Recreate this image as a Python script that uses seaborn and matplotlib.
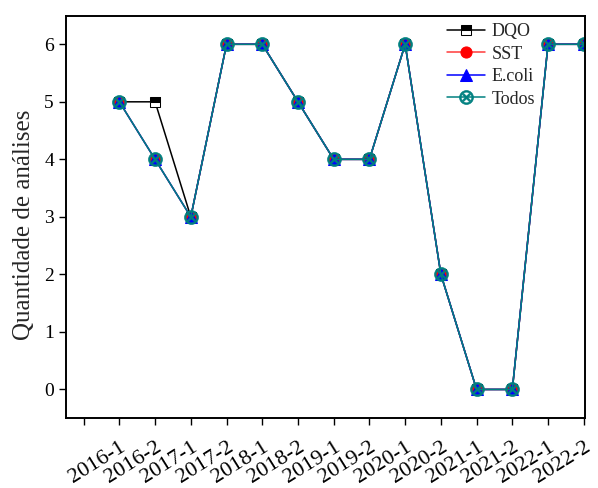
import numpy as np
import pandas as pd
import seaborn as sns
import matplotlib.pyplot as plt

# Semesters (first tick left without label, as in original)
semestres = ['2016-1', '2016-2', '2017-1', '2017-2', '2018-1', '2018-2', '2019-1',
             '2019-2', '2020-1', '2020-2', '2021-1', '2021-2', '2022-1', '2022-2']
dqo = [5, 5, 3, 6, 6, 5, 4, 4, 6, 2, 0, 0, 6, 6]
sst = [5, 4, 3, 6, 6, 5, 4, 4, 6, 2, 0, 0, 6, 6]
ecoli = [5, 4, 3, 6, 6, 5, 4, 4, 6, 2, 0, 0, 6, 6]
todos = [5, 4, 3, 6, 6, 5, 4, 4, 6, 2, 0, 0, 6, 6]

pos = np.arange(1, len(semestres) + 1)

sns.set_style('ticks')
plt.rcParams['font.family'] = ['Liberation Serif', 'DejaVu Serif']

fig = plt.figure(figsize=(5.98, 4.88), dpi=100)
ax = fig.add_axes([0.110, 0.143, 0.868, 0.824])

sns.lineplot(x=pos, y=dqo, ax=ax, color='black', lw=1.1, marker='s', ms=6.5,
             fillstyle='top', markerfacecoloralt='white', mec='black', label='DQO')
sns.lineplot(x=pos, y=sst, ax=ax, color='#ff3b3b', lw=1.1, marker='o', ms=8,
             mec='red', mfc='red', label='SST')
sns.lineplot(x=pos, y=ecoli, ax=ax, color='blue', lw=1.1, marker='^', ms=8,
             mec='blue', mfc='blue', label='E.coli')
sns.lineplot(x=pos, y=todos, ax=ax, color='#008080', lw=1.1, marker='$\\otimes$', ms=10,
             mec='#008080', mfc='#008080', mew=0.5, label='Todos')

ax.set_xlim(-0.5, 14.03)
ax.set_ylim(-0.5, 6.49)
ax.set_xticks(np.arange(0, 15))
ax.set_xticklabels([''] + semestres, rotation=32, ha='right', rotation_mode='anchor')
ax.set_yticks(range(0, 7))
ax.tick_params(axis='both', direction='out', length=5, width=1.0, colors='black')
ax.tick_params(axis='y', labelsize=14)
ax.tick_params(axis='x', labelsize=16, pad=9)
for s in ax.spines.values():
    s.set_visible(True)
    s.set_linewidth(1.4)
    s.set_color('black')

ax.set_ylabel('Quantidade de análises', fontsize=18)
ax.yaxis.set_label_coords(-0.06, 0.48)
ax.set_xlabel('')
ax.legend(loc='upper left', bbox_to_anchor=(0.734, 0.983), frameon=False, fontsize=13,
          handlelength=2.1, handletextpad=0.4, labelspacing=0.31,
          borderpad=0, borderaxespad=0)

fig.savefig('out.png', dpi=100)
